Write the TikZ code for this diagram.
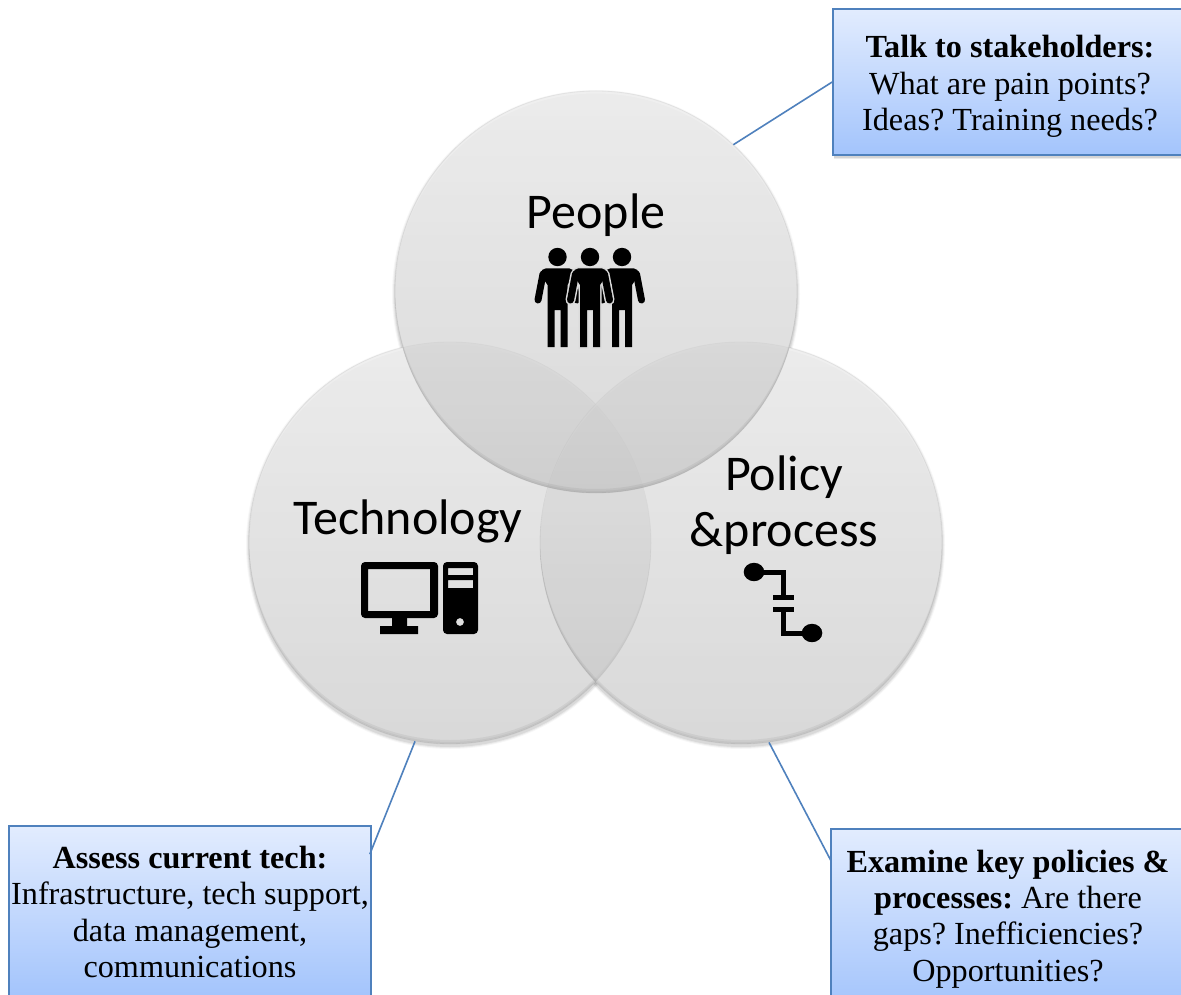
\documentclass[tikz,border=0pt]{standalone}
\usepackage{fontspec}
\setmainfont{Liberation Serif}
\newfontfamily\labelfont{Carlito}
\usetikzlibrary{calc,shadows}
\tikzset{
  x=1pt,y=-1pt,
  venn/.style={circle,minimum size=402pt,inner sep=0pt,top color=venntop,bottom color=vennbot,fill opacity=.62,draw=gray,draw opacity=.15,line width=.8pt},
  softshade/.style={drop shadow={shadow xshift=#1,shadow yshift=-1.5pt,opacity=.10,fill=black},drop shadow={shadow xshift=#1,shadow yshift=-3pt,opacity=.09,fill=black},drop shadow={shadow xshift=#1,shadow yshift=-4.5pt,opacity=.08,fill=black}},
  notebox/.style={rectangle,inner sep=0pt,align=center,draw=boxline,line width=1.6pt,top color=boxtop,bottom color=boxbot,text=black,font=\fontsize{32.2pt}{36.4pt}\selectfont\frenchspacing},
  biglabel/.style={font=\labelfont\fontsize{50pt}{56pt}\selectfont,inner sep=0pt,align=center,text=black},
  link/.style={draw=boxline,line width=1.6pt},
  icon/.style={fill=black,draw=none},
  iconline/.style={draw=black,line width=5pt}
}
\definecolor{venntop}{gray}{.88}
\definecolor{vennbot}{gray}{.76}
\definecolor{haloc}{gray}{.86}
\definecolor{boxline}{HTML}{4F81BD}
\definecolor{boxtop}{HTML}{E2ECFE}
\definecolor{boxbot}{HTML}{A3C4FC}
\newcommand{\personbody}{(-10,347) -- (-10,285) -- (-16,276) [rounded corners=5pt] -- (-17,268.5) -- (17,268.5) [sharp corners] -- (16,276) -- (10,285) -- (10,347) -- (3,347) -- (3,310) -- (-3,310) -- (-3,347) -- cycle}
\newcommand{\personarms}{(-14.5,274) -- (-19.5,300) (14.5,274) -- (19.5,300)}
\newcommand{\personicon}[1]{%
  \begin{scope}[shift={(#1,0)}]
    \fill[black] (0,257) circle (9.2);
    \draw[black,line width=7pt,line cap=round] \personarms;
    \fill[black] \personbody;
  \end{scope}}
\newcommand{\personhalo}[1]{%
  \begin{scope}[shift={(#1,0)}]
    \draw[haloc,line width=10pt,line cap=round] \personarms;
    \draw[haloc,line width=3pt,fill=haloc] \personbody;
  \end{scope}}
\newcommand{\rimpair}[2]{%
  \begin{scope}
    \clip (#1,#2) circle (201);
    \fill[black,fill opacity=.05,even odd rule] (#1-210,#2-210) rectangle (#1+210,#2+210) (#1,#2-4) circle (201);
    \fill[black,fill opacity=.04,even odd rule] (#1-210,#2-210) rectangle (#1+210,#2+210) (#1,#2-2) circle (201);
    \fill[white,fill opacity=.22,even odd rule] (#1-210,#2-210) rectangle (#1+210,#2+210) (#1,#2+2.5) circle (201);
  \end{scope}}
\begin{document}
\begin{tikzpicture}
\useasboundingbox (0,0) rectangle (1181,995);
\clip (0,0) rectangle (1181,995);
\fill[white] (0,0) rectangle (1181,995);
% soft shadows under the circles
\foreach \cx/\cy in {450/543,741/543,596/292}{
  \foreach \r/\o in {204/.03,203/.05,202/.07}{
    \fill[black,fill opacity=\o] (\cx,\cy+2) circle (\r);
  }
}
\foreach \cx/\cy in {450/543,741/543,596/292}{
  \fill[white] (\cx,\cy) circle (201);
}
\node[venn] (tech) at (450,543) {};
\rimpair{450}{543}
\node[venn] (policy) at (741,543) {};
\rimpair{741}{543}
\node[venn] (people) at (596,292) {};
\rimpair{596}{292}
% labels
\node[biglabel] (lpeople) at (596,215) {People};
\node[biglabel] (ltech) at (408,521.5) {Technology};
\node[biglabel] (lpolicy) at (784,505.5) {Policy\\\&process};
% people icon
\personicon{557.5}
\personicon{622}
\personhalo{590}
\personicon{590}
% computer icon
\fill[icon,rounded corners=4pt,even odd rule] (361,562) rectangle (438,618) {[sharp corners] (368,569) rectangle (430,611)};
\fill[icon] (392,617) rectangle (407,627) (380,626) rectangle (418,634);
\fill[icon,even odd rule] [rounded corners=4pt] (443,562) rectangle (478,634) [sharp corners] (448,568) rectangle (473,575) (448,580) rectangle (473,588) (460,622) circle (4);
% process icon
\fill[icon] (754,572) ellipse (10.3 and 9.2) (812,633) ellipse (10.3 and 9.2);
\draw[iconline] (754,572) -- (783,572) -- (783,597);
\draw[iconline] (773,597) -- (794,597);
\draw[iconline] (773,609) -- (794,609);
\draw[iconline] (783,609) -- (783,633) -- (812,633);
% boxes
\node[notebox,minimum width=354pt,minimum height=146pt,softshade=.5pt] (talk) at (1010,82) {\rule{0pt}{31pt}\textbf{Talk to stakeholders:}\\What are pain points?\\Ideas? Training needs?};
\node[notebox,minimum width=362pt,minimum height=172pt,softshade=.5pt] (assess) at (190,912) {\textbf{Assess current tech:}\\Infrastructure, tech support,\\data management,\\communications};
\node[notebox,minimum width=354pt,minimum height=180pt,softshade=-.5pt] (examine) at (1008,919) {\textbf{Examine key policies \&}\\\textbf{processes:} Are there\\gaps? Inefficiencies?\\Opportunities?};
% connectors
\coordinate (assessend) at ($(assess.north east)+(-2,29)$);
\coordinate (examineend) at ($(examine.north west)+(1,33)$);
\draw[link] (people.47.6) -- (talk.west);
\draw[link] (tech.-100) -- (assessend);
\draw[link] (policy.-82.5) -- (examineend);
\end{tikzpicture}
\end{document}
